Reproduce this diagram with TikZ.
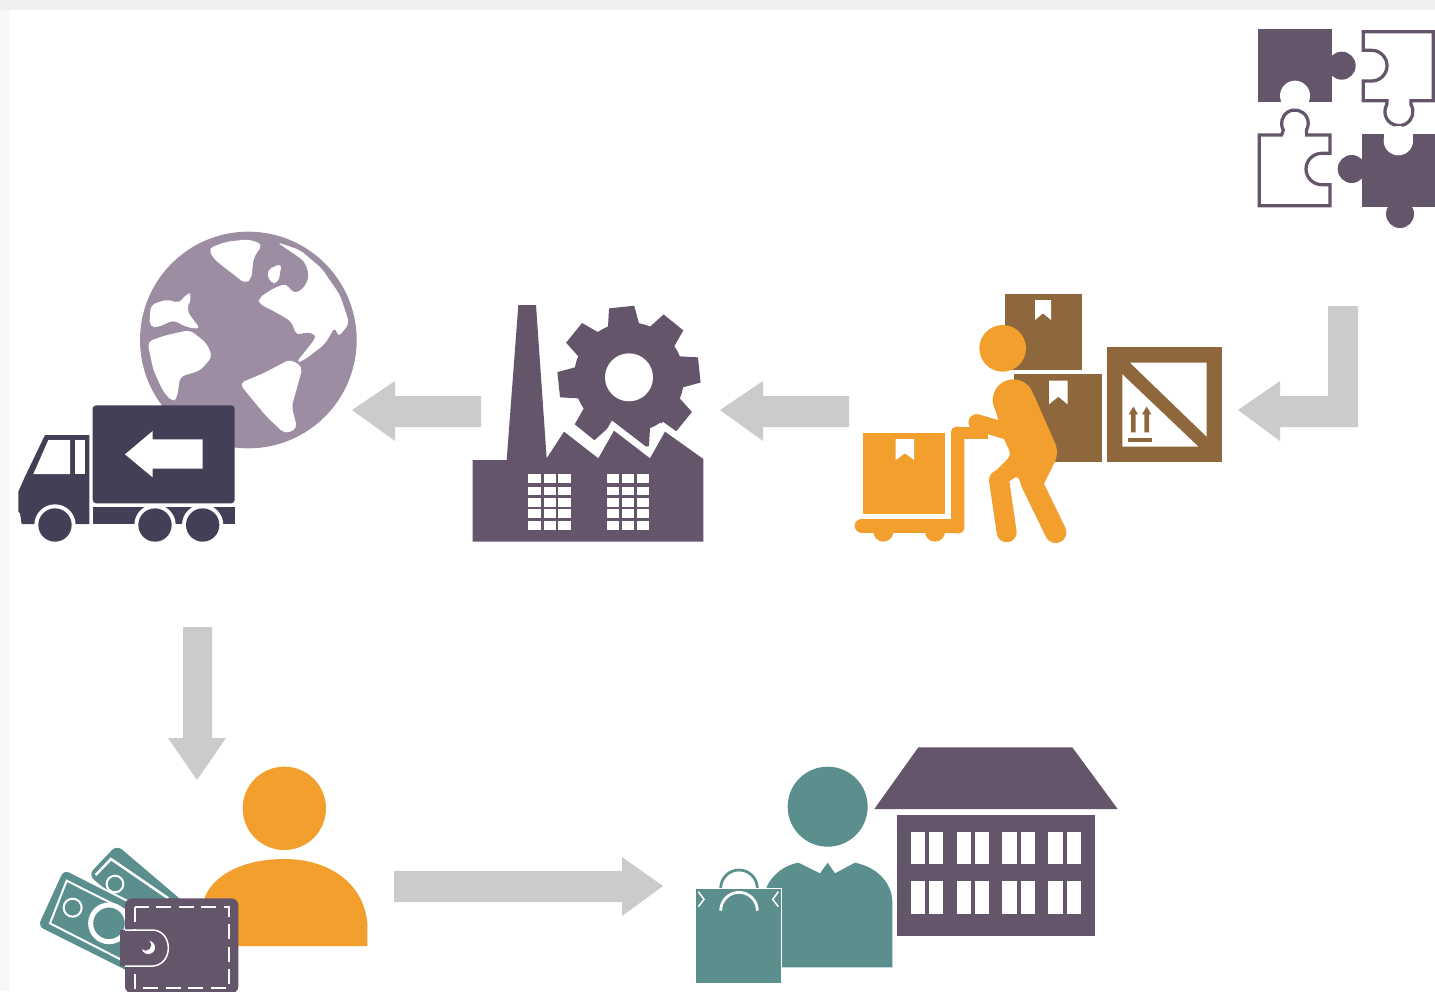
\documentclass[tikz,border=0pt]{standalone}
\definecolor{plum}{HTML}{65556B}
\definecolor{lilac}{HTML}{9C8DA3}
\definecolor{navy}{HTML}{423F56}
\definecolor{amber}{HTML}{F39F2D}
\definecolor{umber}{HTML}{8F673C}
\definecolor{teal2}{HTML}{5A8F8E}
\definecolor{ash}{HTML}{CBCBCB}
\begin{document}
\begin{tikzpicture}[x=0.02cm,y=-0.02cm]
\tikzstyle{blockarrow}=[fill=ash];
\tikzstyle{land}=[fill=white,rounded corners=3pt];
\useasboundingbox (0,0) rectangle (1435,991);
\fill[white] (0,0) rectangle (1435,991);
\fill[black!6] (0,0) rectangle (1435,10);
\fill[black!3] (0,10) rectangle (9,991);

% puzzle
\begin{scope}[shift={(1240,10)},scale=1/3]
\fill[plum] (55,58) rectangle (275,277);
\fill[plum] (305,167) circle (42);
\fill[plum] (270,142) rectangle (295,192);
\fill[white] (165,257) circle (45);
\fill[white] (122,257) rectangle (208,280);
\draw[plum,line width=0.065cm] (370,65) -- (580,65) -- (580,272) -- (513,272) -- (513,284)
 arc[start angle=-30,end angle=210,radius=42] -- (441,272) -- (370,272) -- (370,213) -- (395,213)
 arc[start angle=90,end angle=-90,radius=46] -- (370,121) -- cycle;
\draw[plum,line width=0.065cm] (58,375) -- (125,375) -- (130,360)
 arc[start angle=150,end angle=390,radius=40] -- (200,375) -- (270,375) -- (270,430) -- (245,430)
 arc[start angle=-90,end angle=-270,radius=47] -- (270,524) -- (270,587) -- (58,587) -- cycle;
\fill[plum] (365,372) rectangle (585,590);
\fill[plum] (335,477) circle (42);
\fill[plum] (350,452) rectangle (370,502);
\fill[plum] (480,612) circle (42);
\fill[plum] (455,585) rectangle (505,600);
\fill[white] (475,392) circle (44);
\fill[white] (431,365) rectangle (519,392);
\end{scope}

% arrows
\fill[blockarrow] (1328,306) -- (1358,306) -- (1358,427) -- (1280,427) -- (1280,441) -- (1238,410) -- (1280,381) -- (1280,396) -- (1328,396) -- cycle;
\fill[blockarrow] (849,396) -- (763,396) -- (763,381) -- (720,410) -- (763,441) -- (763,427) -- (849,427) -- cycle;
\fill[blockarrow] (481,396) -- (395,396) -- (395,381) -- (352,410) -- (395,441) -- (395,427) -- (481,427) -- cycle;
\fill[blockarrow] (183,627) -- (212,627) -- (212,738) -- (226,738) -- (197,780) -- (168,738) -- (183,738) -- cycle;
\fill[blockarrow] (394,871) -- (622,871) -- (622,857) -- (663,886) -- (622,916) -- (622,902) -- (394,902) -- cycle;

% globe and truck
\begin{scope}[shift={(10,220)},scale=1/3]
\fill[lilac] (715,360) circle (325);
\fill[land] (595,85) -- (650,65) -- (715,58) -- (758,72) -- (730,115) -- (725,175) -- (705,192) -- (680,170) -- (640,140) -- (610,115) -- cycle;
\fill[land] (800,66) -- (870,90) -- (935,145) -- (990,225) -- (1018,310) -- (985,352) -- (975,320) -- (945,372) -- (880,422) -- (858,428) -- (905,370) -- (922,345) -- (885,335) -- (860,348) -- (845,305) -- (800,278) -- (748,252) -- (745,235) -- (790,205) -- (830,190) -- (850,222) -- (880,207) -- (898,170) -- (885,125) -- (850,100) -- cycle;
\fill[land] (770,150) -- (815,130) -- (805,190) -- (780,190) -- cycle;
\fill[land] (688,490) -- (760,460) -- (840,418) -- (878,440) -- (862,500) -- (845,560) -- (862,625) -- (825,642) -- (770,590) -- (720,530) -- cycle;
\fill[land] (422,255) -- (470,238) -- (510,250) -- (530,218) -- (547,225) -- (530,270) -- (550,300) -- (572,327) -- (530,322) -- (490,300) -- (445,322) -- (418,320) -- cycle;
\fill[land] (412,365) -- (470,345) -- (540,330) -- (590,370) -- (607,410) -- (570,452) -- (510,470) -- (502,530) -- (490,548) -- (460,515) -- (430,450) -- cycle;
\fill[navy,rounded corners=2pt] (248,556) rectangle (674,850);
\fill[white] (345,703) -- (428,633) -- (428,658) -- (578,658) -- (578,746) -- (428,746) -- (428,772) -- cycle;
\fill[navy] (25,815) -- (45,770) -- (105,645) -- (238,645) -- (238,912) -- (35,912) -- (30,880) -- (25,875) -- cycle;
\fill[white] (70,762) -- (115,660) -- (180,660) -- (180,762) -- cycle;
\fill[white] (195,660) rectangle (225,762);
\fill[navy] (250,862) rectangle (676,912);
\foreach \wx in {135,435,578}{
\fill[white] (\wx,915) circle (62);
}
\fill[white] (60,915) rectangle (210,980);
\fill[white] (370,915) rectangle (640,980);
\foreach \wx in {135,435,578}{
\fill[navy] (\wx,915) circle (50);
}
\end{scope}

% factory
\begin{scope}[shift={(460,290)},scale=1/3]
\fill[plum] (507,262) circle (165);
\foreach \a in {0,...,7}{
\fill[plum,shift={(507,262)},rotate=6+\a*45] (150,-48) -- (212,-38) -- (212,38) -- (150,48) -- cycle;
}
\fill[white] (507,262) circle (72);
\draw[white,line width=0.27cm] (260,505) -- (312,425) -- (415,505) -- (462,422) -- (570,505) -- (615,425) -- (730,507) -- (760,530);
\fill[plum] (38,510) -- (140,510) -- (175,45) -- (228,45) -- (260,505) -- (312,425) -- (415,505) -- (462,422) -- (570,505) -- (615,425) -- (730,507) -- (730,755) -- (38,755) -- cycle;
\foreach \gx in {205,440}{
\foreach \cx in {0,46,90}{
\foreach \ry/\rh in {553/27,590/25,625/25,658/25,692/28}{
\fill[white] (\gx+\cx,\ry) rectangle (\gx+\cx+37,\ry+\rh);
}}}
\end{scope}

% boxes and worker
\begin{scope}[shift={(845,285)},scale=1/3]
\fill[umber] (480,28) rectangle (710,255);
\fill[white] (570,45) -- (618,45) -- (618,105) -- (594,85) -- (570,105) -- cycle;
\fill[umber] (507,268) rectangle (772,530);
\fill[white] (612,287) -- (668,287) -- (668,358) -- (640,335) -- (612,358) -- cycle;
\fill[umber] (785,187) rectangle (1130,530);
\fill[white] (855,233) -- (1085,233) -- (1085,455) -- cycle;
\fill[white] (832,268) -- (1060,485) -- (832,485) -- cycle;
\foreach \ax in {865,905}{
\fill[umber] (\ax-7,442) -- (\ax-7,388) -- (\ax-14,388) -- (\ax,365) -- (\ax+14,388) -- (\ax+7,388) -- (\ax+7,442) -- cycle;
}
\fill[umber] (850,460) rectangle (920,472);
\fill[amber] (55,445) rectangle (300,687);
\fill[white] (152,462) -- (207,462) -- (207,525) -- (180,505) -- (152,525) -- cycle;
\fill[amber] (115,740) circle (30);
\fill[amber] (270,740) circle (30);
\draw[amber,line width=0.28cm,line cap=round] (50,722) -- (335,722);
\fill[amber,rounded corners=3pt] (318,425) rectangle (358,745);
\draw[amber,line width=0.24cm] (330,445) -- (430,445);
\draw[amber,line width=0.33cm,line cap=round] (395,412) -- (490,440);
\fill[amber] (505,345) circle (62);
\fill[amber,rounded corners=3pt] (445,355) -- (560,315) -- (637,490) -- (635,520) -- (590,610) -- (525,600) -- (520,570) -- (470,605) -- (432,578) -- (500,510) -- (480,470) -- cycle;
\draw[amber,line width=0.4cm,line cap=round] (462,585) -- (485,742);
\draw[amber,line width=0.43cm,line cap=round] (558,590) -- (632,742);
\fill[amber] (473,190) circle (70);
\end{scope}

% person and wallet
\begin{scope}[shift={(25,760)},scale=1/3]
\fill[amber] (778,145) circle (125);
\fill[amber] (1027,558) -- (1027,490) .. controls (1015,360) and (900,297) .. (780,297) .. controls (660,297) and (570,340) .. (540,410) -- (540,558) -- cycle;
\fill[teal2,rounded corners=4pt] (275,255) -- (475,425) -- (400,520) -- (190,345) -- cycle;
\draw[white,line width=0.05cm] (212,345) -- (258,297) -- (430,415);
\draw[white,line width=0.04cm] (270,372) circle (25);
\fill[teal2,rounded corners=4pt,draw=white,line width=0.04cm] (115,325) -- (420,480) -- (335,650) -- (35,500) -- cycle;
\draw[white,line width=0.04cm] (125,362) -- (320,460) -- (310,610) -- (75,490) -- cycle;
\draw[white,line width=0.04cm] (143,443) circle (27);
\draw[white,line width=0.1cm] (252,490) circle (55);
\fill[plum,rounded corners=4pt] (300,415) rectangle (640,700);
\draw[white,line width=0.04cm,dash pattern=on 0.3cm off 0.15cm] (330,440) rectangle (612,685);
\fill[plum] (285,510) -- (385,510) .. controls (445,515) and (445,612) .. (385,618) -- (285,618) -- cycle;
\draw[white,line width=0.03cm] (300,510) -- (385,510) .. controls (445,515) and (445,612) .. (385,618) -- (300,618);
\fill[white] (370,562) circle (20);
\fill[plum] (362,555) circle (17);
\end{scope}

% buyer and shop
\begin{scope}[shift={(685,740)},scale=1/3]
\fill[teal2] (428,200) circle (120);
\fill[teal2] (245,440) .. controls (265,400) and (300,375) .. (340,368) -- (405,400) -- (428,368) -- (450,400) -- (510,368) .. controls (590,385) and (620,440) .. (622,482) -- (622,682) -- (280,682) -- cycle;
\draw[teal2,line width=0.055cm] (107,445) arc[start angle=180,end angle=360,radius=55];
\fill[teal2,draw=white,line width=0.02cm] (32,445) rectangle (290,730);
\draw[white,line width=0.055cm] (107,512) arc[start angle=180,end angle=360,radius=55];
\draw[white,line width=0.03cm] (40,455) -- (57,478) -- (40,500);
\draw[white,line width=0.03cm] (280,455) -- (263,478) -- (280,500);
\fill[plum] (700,22) -- (1162,22) -- (1298,207) -- (568,207) -- cycle;
\fill[plum] (635,225) rectangle (1230,587);
\foreach \wx in {677,815,952,1090}{
\foreach \wy/\wh in {275/97,423/99}{
\fill[white] (\wx,\wy) rectangle (\wx+43,\wy+\wh);
\fill[white] (\wx+56,\wy) rectangle (\wx+98,\wy+\wh);
}}
\end{scope}
\end{tikzpicture}
\end{document}
